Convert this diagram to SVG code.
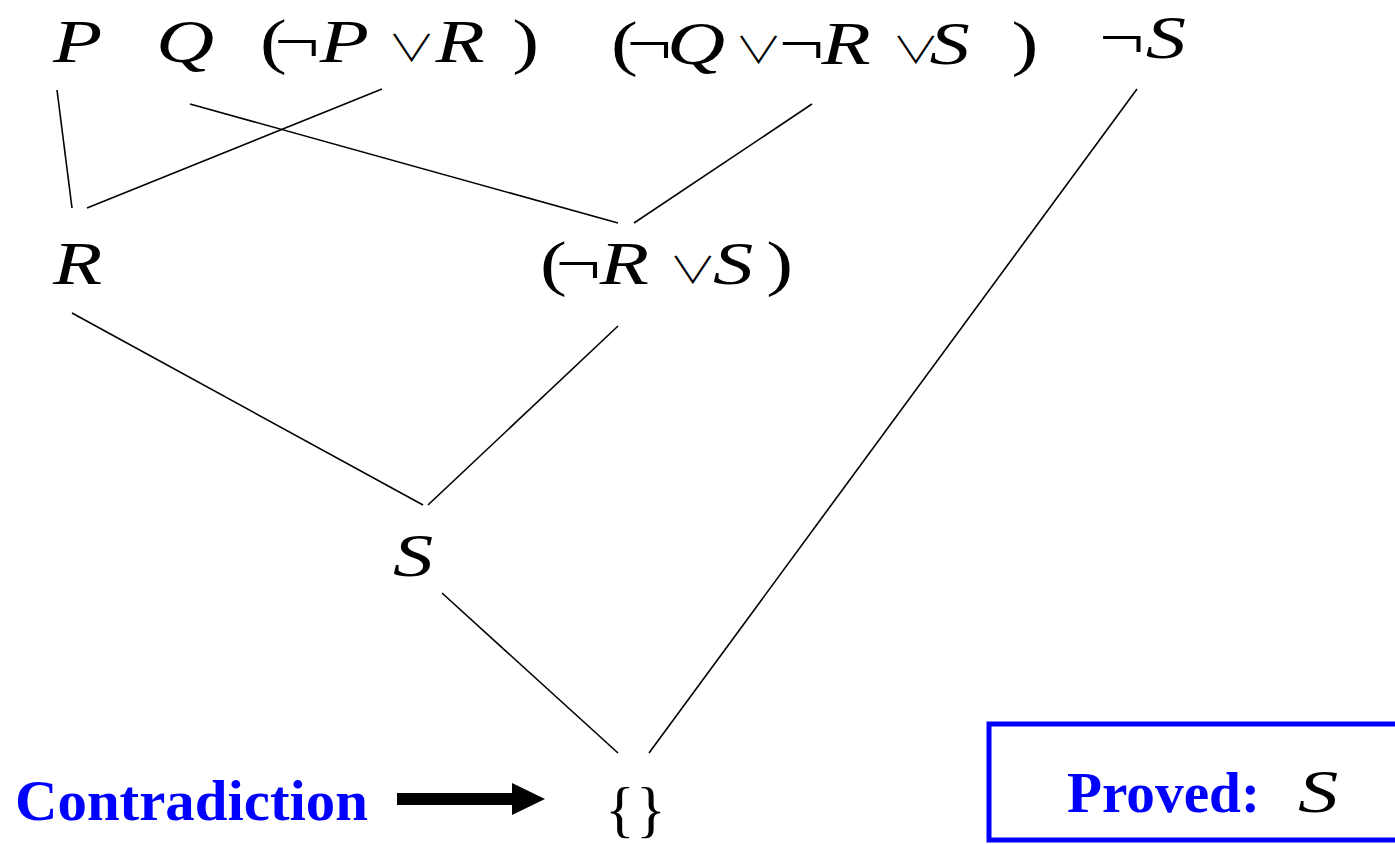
<svg xmlns="http://www.w3.org/2000/svg" width="1395" height="844" viewBox="0 0 1395 844">
<style>
.f{font-family:"Liberation Serif","DejaVu Serif",serif;font-size:62px;fill:#000}
.i{font-style:italic}
.v{font-family:"Noto Sans CJK JP","DejaVu Sans",sans-serif;font-size:37px;font-weight:300;fill:#000}
.b{font-family:"Liberation Serif","DejaVu Serif",serif;font-weight:bold;fill:#0000ff}
.e{stroke:#000;stroke-width:1.6;fill:none}
</style>
<rect width="1395" height="844" fill="#fff"/>
<g id="edges">
<line class="e" x1="57" y1="90" x2="72" y2="208"/>
<line class="e" x1="382" y1="89" x2="87" y2="208"/>
<line class="e" x1="190" y1="104" x2="618" y2="223"/>
<line class="e" x1="812" y1="104" x2="634" y2="223"/>
<line class="e" x1="1137" y1="89" x2="649" y2="753"/>
<line class="e" x1="72" y1="313" x2="423" y2="505"/>
<line class="e" x1="618" y1="326" x2="428" y2="505"/>
<line class="e" x1="442" y1="593" x2="618" y2="753"/>
</g>
<g id="nP" transform="translate(53,62) scale(1.3,1)"><text class="f i" x="0" y="0">P</text></g>
<g id="nQ" transform="translate(156,62) scale(1.3,1)"><text class="f i" x="0" y="0">Q</text></g>
<g id="nNPR" transform="translate(260,62) scale(1.3,1)">
<text class="f" y="0"><tspan x="0">(</tspan><tspan x="11">¬</tspan><tspan class="i" x="46">P</tspan><tspan class="i" x="135">R</tspan><tspan x="194">)</tspan></text>
<text class="v" x="98" y="0">∨</text>
</g>
<g id="nNQNRS" transform="translate(611,64) scale(1.3,1)">
<text class="f" y="0"><tspan x="0">(</tspan><tspan x="12">¬</tspan><tspan class="i" x="43">Q</tspan><tspan x="129">¬</tspan><tspan class="i" x="162">R</tspan><tspan class="i" x="245">S</tspan><tspan x="308">)</tspan></text>
<text class="v" y="0"><tspan x="95">∨</tspan><tspan x="216">∨</tspan></text>
</g>
<g id="nNS" transform="translate(1099,58) scale(1.3,1)"><text class="f" y="0"><tspan x="0">¬</tspan><tspan class="i" x="36">S</tspan></text></g>
<g id="nR" transform="translate(53,284) scale(1.3,1)"><text class="f i" x="0" y="0">R</text></g>
<g id="nNRS" transform="translate(540,284) scale(1.3,1)">
<text class="f" y="0"><tspan x="0">(</tspan><tspan x="12">¬</tspan><tspan class="i" x="46">R</tspan><tspan class="i" x="133">S</tspan><tspan x="174">)</tspan></text>
<text class="v" x="99" y="0">∨</text>
</g>
<g id="nS" transform="translate(393,576) scale(1.3,1)"><text class="f i" x="0" y="0">S</text></g>
<g id="nEmpty"><text class="f" font-size="60" y="830"><tspan x="605">{</tspan><tspan x="636">}</tspan></text></g>
<g id="label">
<text class="b" x="15" y="820" font-size="56" textLength="353" lengthAdjust="spacingAndGlyphs">Contradiction</text>
<path d="M397 793 H512 V783 L545 799 L512 815 V805 H397 Z" fill="#000"/>
</g>
<g id="proved">
<rect x="989" y="724" width="430" height="116" fill="none" stroke="#0000ff" stroke-width="5"/>
<text class="b" x="1067" y="812" font-size="56" textLength="193" lengthAdjust="spacingAndGlyphs">Proved:</text>
<g transform="translate(1298,812) scale(1.3,1)"><text class="f i" x="0" y="0" font-size="60">S</text></g>
</g>
</svg>
